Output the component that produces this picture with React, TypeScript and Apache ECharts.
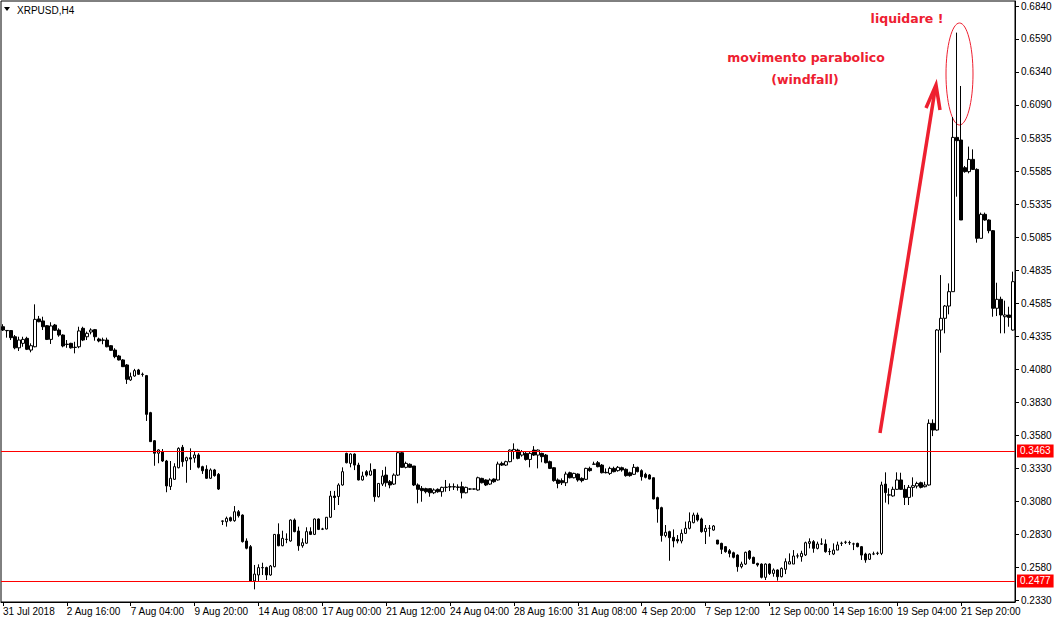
import React, { useEffect, useRef } from "react";
import * as echarts from "echarts";

// ---- data (XRPUSD, H4) ----
const opens = [
  0.4406,0.4378,0.4377,0.4330,0.4246,0.4280,0.4318,0.4229,0.4254,0.4465,
  0.4450,0.4414,0.4310,0.4419,0.4381,0.4343,0.4273,0.4280,0.4250,0.4254,
  0.4394,0.4330,0.4366,0.4384,0.4313,0.4305,0.4305,0.4262,0.4229,0.4184,
  0.4154,0.4116,0.4002,0.4032,0.4078,0.4045,0.4035,0.3754,0.3541,0.3446,
  0.3458,0.3387,0.3194,0.3248,0.3336,0.3491,0.3389,0.3412,0.3410,0.3433,
  0.3344,0.3324,0.3256,0.3319,0.3286,0.2932,0.2926,0.2957,0.2934,0.3002,
  0.2977,0.2780,0.2737,0.2477,0.2522,0.2578,0.2578,0.2522,0.2585,0.2830,
  0.2744,0.2793,0.2780,0.2939,0.2856,0.2744,0.2763,0.2851,0.2830,0.2947,
  0.2871,0.2871,0.2960,0.3121,0.3118,0.3205,0.3445,0.3369,0.3440,0.3356,
  0.3243,0.3306,0.3280,0.3323,0.3116,0.3212,0.3280,0.3230,0.3212,0.3280,
  0.3450,0.3339,0.3362,0.3349,0.3205,0.3179,0.3177,0.3177,0.3146,0.3172,
  0.3154,0.3187,0.3190,0.3192,0.3190,0.3192,0.3146,0.3175,0.3174,0.3167,
  0.3255,0.3243,0.3212,0.3250,0.3243,0.3369,0.3356,0.3382,0.3460,0.3470,
  0.3432,0.3445,0.3399,0.3470,0.3432,0.3445,0.3432,0.3382,0.3336,0.3243,
  0.3238,0.3222,0.3298,0.3260,0.3288,0.3255,0.3248,0.3331,0.3362,0.3374,
  0.3356,0.3301,0.3293,0.3331,0.3314,0.3336,0.3324,0.3298,0.3286,0.3339,
  0.3314,0.3286,0.3281,0.3260,0.3109,0.3033,0.2821,0.2851,0.2808,0.2792,
  0.2780,0.2838,0.2876,0.2919,0.2977,0.2947,0.2851,0.2876,0.2863,0.2787,
  0.2762,0.2737,0.2706,0.2691,0.2673,0.2585,0.2605,0.2704,0.2656,0.2610,
  0.2605,0.2504,0.2605,0.2534,0.2560,0.2509,0.2565,0.2605,0.2605,0.2666,
  0.2661,0.2674,0.2762,0.2775,0.2724,0.2757,0.2757,0.2699,0.2681,0.2711,
  0.2762,0.2770,0.2767,0.2757,0.2762,0.2737,0.2681,0.2641,0.2681,0.2686,
  0.2686,0.3212,0.3129,0.3122,0.3172,0.3243,0.3172,0.3111,0.3187,0.3197,
  0.3222,0.3192,0.3205,0.3673,0.3622,0.4381,0.4470,0.4563,0.4672,0.5843,
  0.5823,0.5613,0.5583,0.5676,0.5600,0.5077,0.5259,0.5216,0.5135,0.4546,
  0.4614,0.4482,0.4495,0.4381,
];
const highs = [
  0.4425,0.4381,0.4381,0.4343,0.4330,0.4330,0.4330,0.4280,0.4576,0.4488,
  0.4482,0.4419,0.4440,0.4427,0.4394,0.4348,0.4305,0.4284,0.4292,0.4406,
  0.4406,0.4369,0.4394,0.4389,0.4323,0.4323,0.4323,0.4267,0.4243,0.4192,
  0.4160,0.4123,0.4058,0.4086,0.4086,0.4058,0.4040,0.3760,0.3546,0.3476,
  0.3478,0.3395,0.3387,0.3370,0.3491,0.3509,0.3420,0.3483,0.3458,0.3446,
  0.3351,0.3355,0.3331,0.3327,0.3296,0.2935,0.2965,0.2965,0.3045,0.3015,
  0.2982,0.2800,0.2749,0.2598,0.2603,0.2615,0.2585,0.2598,0.2833,0.2914,
  0.2858,0.2838,0.2944,0.2951,0.2889,0.2800,0.2884,0.2884,0.2951,0.2951,
  0.2880,0.2962,0.3160,0.3160,0.3218,0.3339,0.3450,0.3445,0.3445,0.3374,
  0.3306,0.3318,0.3369,0.3323,0.3217,0.3318,0.3344,0.3243,0.3293,0.3463,
  0.3463,0.3382,0.3369,0.3349,0.3217,0.3197,0.3184,0.3179,0.3179,0.3179,
  0.3192,0.3243,0.3217,0.3217,0.3210,0.3230,0.3192,0.3179,0.3177,0.3268,
  0.3260,0.3248,0.3255,0.3255,0.3382,0.3382,0.3389,0.3475,0.3521,0.3480,
  0.3470,0.3455,0.3455,0.3500,0.3475,0.3450,0.3440,0.3390,0.3340,0.3255,
  0.3255,0.3306,0.3306,0.3298,0.3293,0.3263,0.3336,0.3344,0.3382,0.3387,
  0.3364,0.3331,0.3344,0.3344,0.3349,0.3344,0.3331,0.3306,0.3364,0.3344,
  0.3324,0.3298,0.3288,0.3263,0.3116,0.3040,0.2901,0.2858,0.2868,0.2825,
  0.2868,0.2927,0.2997,0.2995,0.2995,0.2957,0.2901,0.2901,0.2901,0.2787,
  0.2767,0.2742,0.2719,0.2699,0.2679,0.2623,0.2699,0.2711,0.2661,0.2615,
  0.2610,0.2610,0.2610,0.2572,0.2565,0.2580,0.2648,0.2686,0.2711,0.2686,
  0.2706,0.2775,0.2800,0.2787,0.2775,0.2800,0.2792,0.2724,0.2762,0.2775,
  0.2775,0.2782,0.2782,0.2767,0.2767,0.2742,0.2691,0.2686,0.2699,0.2699,
  0.3230,0.3301,0.3180,0.3192,0.3301,0.3298,0.3205,0.3205,0.3263,0.3230,
  0.3230,0.3230,0.3703,0.3703,0.4388,0.4798,0.4571,0.4735,0.5997,0.6638,
  0.6233,0.5626,0.5773,0.5752,0.5608,0.5272,0.5272,0.5221,0.5140,0.4740,
  0.4634,0.4604,0.4558,0.4824,
];
const lows = [
  0.4374,0.4323,0.4305,0.4235,0.4222,0.4254,0.4229,0.4212,0.4250,0.4440,
  0.4381,0.4305,0.4275,0.4374,0.4330,0.4250,0.4246,0.4240,0.4204,0.4243,
  0.4297,0.4305,0.4348,0.4300,0.4288,0.4273,0.4250,0.4222,0.4167,0.4150,
  0.4100,0.3972,0.3995,0.4027,0.4040,0.4027,0.3691,0.3534,0.3351,0.3370,
  0.3380,0.3150,0.3167,0.3243,0.3331,0.3344,0.3222,0.3319,0.3374,0.3331,
  0.3289,0.3251,0.3251,0.3268,0.3167,0.2901,0.2889,0.2927,0.2926,0.2958,
  0.2768,0.2717,0.2469,0.2413,0.2477,0.2522,0.2484,0.2516,0.2580,0.2740,
  0.2740,0.2763,0.2775,0.2846,0.2706,0.2729,0.2759,0.2825,0.2825,0.2863,
  0.2863,0.2868,0.2955,0.3015,0.3053,0.3200,0.3369,0.3339,0.3318,0.3240,
  0.3238,0.3268,0.3275,0.3078,0.3110,0.3197,0.3192,0.3180,0.3205,0.3273,
  0.3336,0.3331,0.3336,0.3197,0.3066,0.3078,0.3141,0.3116,0.3136,0.3146,
  0.3116,0.3154,0.3159,0.3167,0.3162,0.3103,0.3141,0.3167,0.3170,0.3162,
  0.3217,0.3197,0.3205,0.3222,0.3238,0.3349,0.3349,0.3377,0.3400,0.3400,
  0.3420,0.3390,0.3339,0.3425,0.3331,0.3377,0.3369,0.3326,0.3230,0.3180,
  0.3205,0.3197,0.3255,0.3255,0.3230,0.3225,0.3243,0.3306,0.3361,0.3339,
  0.3293,0.3293,0.3281,0.3301,0.3306,0.3306,0.3268,0.3268,0.3281,0.3301,
  0.3238,0.3255,0.3248,0.3096,0.2919,0.2775,0.2808,0.2630,0.2732,0.2762,
  0.2762,0.2833,0.2868,0.2914,0.2927,0.2843,0.2757,0.2813,0.2858,0.2755,
  0.2681,0.2691,0.2656,0.2648,0.2547,0.2572,0.2598,0.2636,0.2605,0.2585,
  0.2496,0.2484,0.2522,0.2509,0.2479,0.2504,0.2529,0.2605,0.2605,0.2648,
  0.2623,0.2666,0.2724,0.2691,0.2716,0.2750,0.2691,0.2673,0.2673,0.2711,
  0.2742,0.2757,0.2750,0.2711,0.2732,0.2636,0.2615,0.2636,0.2673,0.2673,
  0.2673,0.3071,0.3058,0.3116,0.3167,0.3167,0.3053,0.3053,0.3116,0.3179,
  0.3179,0.3187,0.3200,0.3576,0.3617,0.4209,0.4356,0.4500,0.4672,0.5393,
  0.5216,0.5575,0.5570,0.5596,0.5044,0.5077,0.5211,0.5115,0.4482,0.4487,
  0.4356,0.4356,0.4406,0.4376,
];
const closes = [
  0.4381,0.4376,0.4323,0.4246,0.4305,0.4310,0.4235,0.4262,0.4462,0.4444,
  0.4406,0.4310,0.4412,0.4379,0.4343,0.4260,0.4272,0.4246,0.4249,0.4374,
  0.4305,0.4356,0.4381,0.4330,0.4298,0.4304,0.4254,0.4227,0.4179,0.4154,
  0.4103,0.4007,0.4027,0.4073,0.4045,0.4044,0.3741,0.3534,0.3446,0.3471,
  0.3387,0.3198,0.3256,0.3344,0.3483,0.3382,0.3412,0.3402,0.3433,0.3340,
  0.3313,0.3256,0.3319,0.3276,0.3174,0.2930,0.2952,0.2934,0.3002,0.2972,
  0.2775,0.2725,0.2477,0.2529,0.2578,0.2577,0.2522,0.2590,0.2830,0.2744,
  0.2800,0.2792,0.2939,0.2851,0.2744,0.2767,0.2851,0.2830,0.2947,0.2868,
  0.2870,0.2960,0.3121,0.3110,0.3205,0.3306,0.3374,0.3440,0.3356,0.3243,
  0.3273,0.3280,0.3312,0.3116,0.3217,0.3273,0.3222,0.3205,0.3280,0.3450,
  0.3339,0.3369,0.3339,0.3205,0.3172,0.3162,0.3154,0.3146,0.3167,0.3154,
  0.3187,0.3188,0.3192,0.3190,0.3187,0.3146,0.3187,0.3174,0.3175,0.3260,
  0.3222,0.3205,0.3243,0.3230,0.3364,0.3356,0.3382,0.3470,0.3475,0.3407,
  0.3458,0.3399,0.3445,0.3432,0.3470,0.3420,0.3374,0.3331,0.3238,0.3217,
  0.3222,0.3288,0.3260,0.3293,0.3243,0.3238,0.3331,0.3314,0.3364,0.3344,
  0.3298,0.3298,0.3331,0.3306,0.3339,0.3319,0.3276,0.3276,0.3339,0.3306,
  0.3268,0.3263,0.3250,0.3099,0.3023,0.2821,0.2846,0.2805,0.2780,0.2780,
  0.2838,0.2876,0.2927,0.2977,0.2939,0.2851,0.2876,0.2877,0.2894,0.2757,
  0.2717,0.2699,0.2686,0.2656,0.2585,0.2605,0.2694,0.2648,0.2610,0.2598,
  0.2504,0.2605,0.2534,0.2560,0.2509,0.2572,0.2623,0.2623,0.2666,0.2667,
  0.2686,0.2767,0.2775,0.2724,0.2757,0.2758,0.2699,0.2700,0.2711,0.2750,
  0.2763,0.2771,0.2768,0.2758,0.2737,0.2673,0.2636,0.2681,0.2682,0.2687,
  0.3205,0.3147,0.3130,0.3172,0.3243,0.3172,0.3111,0.3187,0.3200,0.3217,
  0.3187,0.3205,0.3673,0.3622,0.4381,0.4470,0.4563,0.4672,0.5843,0.5818,
  0.5216,0.5583,0.5676,0.5600,0.5077,0.5259,0.5216,0.5135,0.4546,0.4614,
  0.4495,0.4495,0.4477,0.4748,
];

// time labels shown every 16 bars
const timeLabels = [
  "31 Jul 2018", "2 Aug 16:00", "7 Aug 04:00", "9 Aug 20:00", "14 Aug 08:00",
  "17 Aug 00:00", "21 Aug 12:00", "24 Aug 04:00", "28 Aug 16:00", "31 Aug 08:00",
  "4 Sep 20:00", "7 Sep 12:00", "12 Sep 00:00", "14 Sep 16:00", "19 Sep 04:00",
  "21 Sep 20:00",
];
const labelStep = 16;

// price scale tick labels
const priceTicks = [
  0.6840, 0.6590, 0.6340, 0.6090, 0.5835, 0.5585, 0.5335, 0.5085, 0.4835, 0.4585,
  0.4335, 0.4080, 0.3830, 0.3580, 0.3330, 0.3080, 0.2830, 0.2580, 0.2330,
];
const priceMin = 0.2317;
const priceMax = 0.6878;

// horizontal levels and current bid
const levelLines = [0.3463, 0.2477];
const bidPrice = 0.5284;

const symbolTitle = "XRPUSD,H4";
const noteTop = "liquidare !";
const noteMid = "movimento parabolico";
const noteLow = "(windfall)";

const RED = "#ee2030";
const FONT = "Liberation Sans";

export default function App() {
  const ref = useRef<HTMLDivElement>(null);

  useEffect(() => {
    if (!ref.current) return;
    const chart = echarts.init(ref.current, undefined, { renderer: "svg" });
    const categories = opens.map((_, i) => String(i));
    const candles = opens.map((o, i) => [o, closes[i], lows[i], highs[i]]);

    const showTick = (i: number) => i % labelStep === 0;

    chart.setOption({
      animation: false,
      backgroundColor: "#ffffff",
      grid: {
        left: 1,
        right: 41,
        top: 1,
        bottom: 22,
        show: true,
        borderColor: "#000",
        borderWidth: 1,
        backgroundColor: "transparent",
      },
      xAxis: {
        type: "category",
        data: categories,
        boundaryGap: true,
        axisLine: { show: true, lineStyle: { color: "#000", width: 1 } },
        axisTick: {
          show: true,
          alignWithLabel: true,
          interval: (i: number) => showTick(i),
          length: 4,
          lineStyle: { color: "#000" },
        },
        axisLabel: {
          show: true,
          interval: (i: number) => showTick(i),
          formatter: (_v: string, i: number) => timeLabels[Math.round(i / labelStep)] ?? "",
          align: "left",
          margin: 4,
          color: "#000",
          fontFamily: FONT,
          fontSize: 10,
        },
        splitLine: { show: false },
      },
      yAxis: {
        type: "value",
        position: "right",
        min: priceMin,
        max: priceMax,
        scale: true,
        axisLine: { show: true, lineStyle: { color: "#000", width: 1 } },
        axisTick: {
          show: true,
          length: 4,
          lineStyle: { color: "#000" },
          customValues: priceTicks,
        },
        axisLabel: {
          show: true,
          margin: 6,
          color: "#000",
          fontFamily: FONT,
          fontSize: 10,
          customValues: priceTicks,
          formatter: (v: number) => v.toFixed(4),
        },
        splitLine: { show: false },
      },
      series: [
        {
          type: "candlestick",
          data: candles,
          barWidth: 3,
          clip: false,
          itemStyle: {
            color: "#ffffff",
            color0: "#000000",
            borderColor: "#000000",
            borderColor0: "#000000",
            borderColorDoji: "#000000",
            borderWidth: 1,
          },
          markLine: {
            symbol: "none",
            precision: 4,
            silent: true,
            animation: false,
            data: [
              ...levelLines.map((v) => ({
                yAxis: v,
                lineStyle: { color: "#ff0000", width: 1, type: "solid" },
                label: {
                  show: true,
                  position: "end",
                  distance: 2,
                  formatter: () => v.toFixed(4),
                  color: "#fff",
                  backgroundColor: "#ff0000",
                  padding: [2, 3, 1, 3],
                  fontFamily: FONT,
                  fontSize: 10,
                },
              })),
              {
                yAxis: bidPrice,
                lineStyle: { color: "#000", width: 0, opacity: 0 },
                label: {
                  show: true,
                  position: "end",
                  distance: 2,
                  formatter: () => bidPrice.toFixed(4),
                  color: "#fff",
                  backgroundColor: "#000",
                  padding: [2, 3, 1, 3],
                  fontFamily: FONT,
                  fontSize: 10,
                },
              },
            ],
          },
        },
      ],
      graphic: [
        {
          type: "polygon",
          shape: { points: [[4, 7], [10, 7], [7, 11]] },
          style: { fill: "#000" },
        },
        {
          type: "text",
          x: 17,
          y: 10,
          style: {
            text: symbolTitle,
            fill: "#000",
            font: `10px "${FONT}"`,
            textVerticalAlign: "middle",
          },
        },
        {
          type: "text",
          x: 907,
          y: 18,
          style: {
            text: noteTop,
            fill: RED,
            font: `bold 12.5px "DejaVu Sans"`,
            textAlign: "center",
            textVerticalAlign: "middle",
          },
        },
        {
          type: "text",
          x: 806,
          y: 57,
          style: {
            text: noteMid,
            fill: RED,
            font: `bold 12.5px "DejaVu Sans"`,
            textAlign: "center",
            textVerticalAlign: "middle",
          },
        },
        {
          type: "text",
          x: 805,
          y: 79,
          style: {
            text: noteLow,
            fill: RED,
            font: `bold 12.5px "DejaVu Sans"`,
            textAlign: "center",
            textVerticalAlign: "middle",
          },
        },
        {
          type: "ellipse",
          shape: { cx: 959.5, cy: 74, rx: 13.5, ry: 51 },
          style: { fill: "none", stroke: RED, lineWidth: 1 },
        },
        {
          type: "polyline",
          shape: { points: [[880, 433], [935, 90]] },
          style: { stroke: RED, lineWidth: 3.5, fill: "none" },
        },
        {
          type: "polyline",
          shape: { points: [[926, 108], [936, 85], [940, 110]] },
          style: { stroke: RED, lineWidth: 3.5, fill: "none", lineJoin: "miter" },
        },
      ],
    });

    return () => chart.dispose();
  }, []);

  return (
    <div
      ref={ref}
      style={{ position: "fixed", left: 0, top: 0, width: 1056, height: 624, background: "#fff" }}
    />
  );
}
